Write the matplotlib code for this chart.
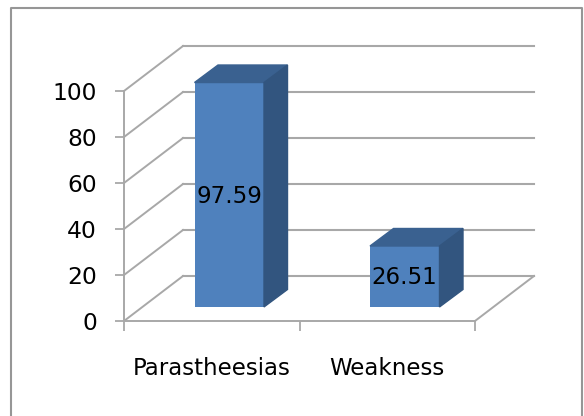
import matplotlib
matplotlib.use("Agg")
import matplotlib.pyplot as plt
from matplotlib.lines import Line2D
from matplotlib.patches import Polygon

categories = ["Parastheesias", "Weakness"]
values = [97.59, 26.51]
value_labels = ["97.59", "26.51"]
y_ticks = [0, 20, 40, 60, 80, 100]

W, H = 584, 416
GRAY = "#a8a8a8"
FONT = "DejaVu Sans"
INK = "#000000"

# 3D look: sizes in data units (175.5 px per category, 2.3 px per value unit)
wall_dx = 59 / 175.5
wall_dy = 45 / 2.3
bar_dx = 23.5 / 175.5
bar_dy = 17.5 / 2.3
base_dx = 17.5 / 175.5
base_dy = 6.1
bar_width = 69.5 / 175.5

fig = plt.figure(figsize=(W / 100, H / 100), dpi=100, facecolor="white")

# outer frame, runs off the bottom of the image
fig.add_artist(Line2D([10.5 / W, 10.5 / W, 581.5 / W, 581.5 / W],
                      [0, 1 - 7.5 / H, 1 - 7.5 / H, 0],
                      color="#969696", lw=1.5, transform=fig.transFigure))

ax = fig.add_axes([124 / W, 1 - 321 / H, 351 / W, 230 / H])
ax.set_xlim(0, 2)
ax.set_ylim(0, 100)
ax.patch.set_visible(False)
for side in ["top", "right"]:
    ax.spines[side].set_visible(False)
for side in ["left", "bottom"]:
    ax.spines[side].set_color(GRAY)
    ax.spines[side].set_linewidth(1.4)

# back wall gridlines and the slanted side wall lines
for t in y_ticks:
    ax.plot([wall_dx, 2 + wall_dx], [t + wall_dy, t + wall_dy], color=GRAY,
            lw=1.5, clip_on=False, zorder=1)
    ax.plot([0, wall_dx], [t, t + wall_dy], color=GRAY, lw=1.4,
            clip_on=False, zorder=1)
ax.plot([2, 2 + wall_dx], [0, wall_dy], color=GRAY, lw=1.4, clip_on=False, zorder=1)

# bars: front face, then top and side faces
for i, v in enumerate(values):
    x0 = i + 0.5 + base_dx - bar_width / 2
    x1 = x0 + bar_width
    ax.bar(x0, v, width=bar_width, bottom=base_dy, align="edge", color="#4f81bd",
           clip_on=False, zorder=3)
    top = base_dy + v
    ax.add_patch(Polygon([(x0, top), (x1, top), (x1 + bar_dx, top + bar_dy),
                          (x0 + bar_dx, top + bar_dy)], closed=True, color="#3a6190",
                         clip_on=False, zorder=3))
    ax.add_patch(Polygon([(x1, base_dy), (x1 + bar_dx, base_dy + bar_dy),
                          (x1 + bar_dx, top + bar_dy), (x1, top)], closed=True,
                         color="#32557f", clip_on=False, zorder=3))
    ax.annotate(value_labels[i], ((x0 + x1) / 2, base_dy + v / 2), xytext=(0, -1),
                textcoords="offset points", ha="center", va="center",
                fontsize=16.5, family=FONT, color=INK, zorder=4)

ax.set_yticks(y_ticks)
ax.set_yticklabels([str(t) for t in y_ticks], fontsize=16.8, family=FONT, color=INK)
ax.tick_params(axis="y", length=6.5, width=1.3, color=GRAY, pad=13)

ax.set_xticks([0, 1, 2])
ax.set_xticklabels([])
ax.set_xticks([0.5, 1.5], minor=True)
ax.set_xticklabels(categories, minor=True, fontsize=16.5, family=FONT, color=INK)
ax.tick_params(axis="x", which="major", length=7, width=1.3, color=GRAY)
ax.tick_params(axis="x", which="minor", length=0, pad=26)

fig.savefig("out.png", dpi=100)
